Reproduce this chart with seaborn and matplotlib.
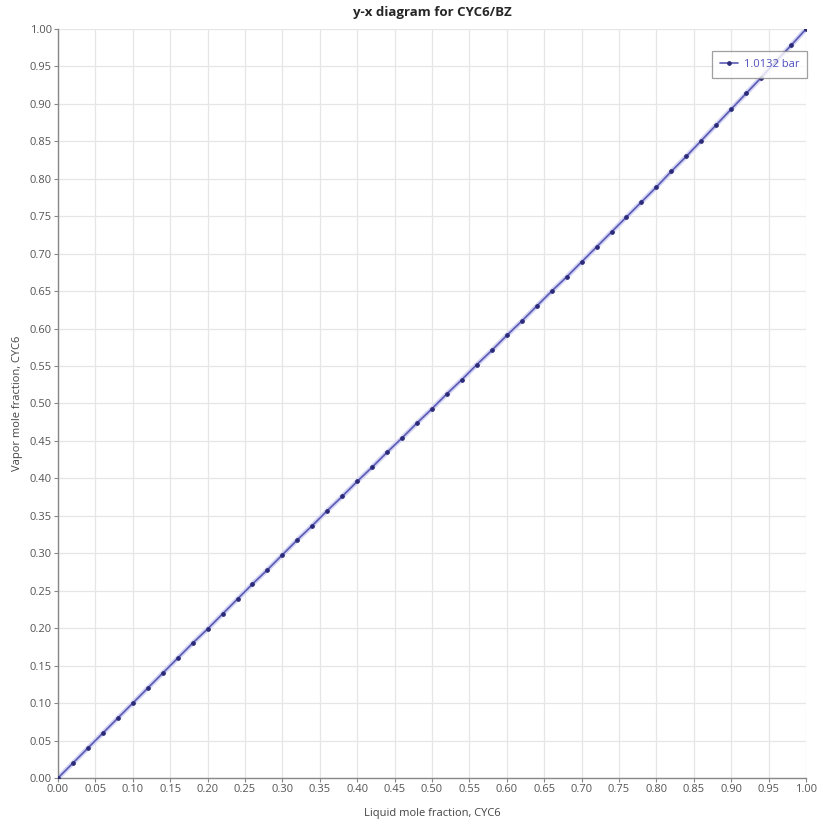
import numpy as np
import pandas as pd
import seaborn as sns
import matplotlib
matplotlib.use('Agg')
import matplotlib.pyplot as plt

# liquid / vapor mole fractions of CYC6 at 1.0132 bar
x_liq = [0.00, 0.02, 0.04, 0.06, 0.08, 0.10, 0.12, 0.14, 0.16, 0.18,
         0.20, 0.22, 0.24, 0.26, 0.28, 0.30, 0.32, 0.34, 0.36, 0.38,
         0.40, 0.42, 0.44, 0.46, 0.48, 0.50, 0.52, 0.54, 0.56, 0.58,
         0.60, 0.62, 0.64, 0.66, 0.68, 0.70, 0.72, 0.74, 0.76, 0.78,
         0.80, 0.82, 0.84, 0.86, 0.88, 0.90, 0.92, 0.94, 0.96, 0.98, 1.00]
y_vap = [0.000, 0.020, 0.040, 0.060, 0.080, 0.100, 0.120, 0.140, 0.160, 0.180,
         0.199, 0.219, 0.239, 0.259, 0.278, 0.298, 0.318, 0.337, 0.357, 0.376,
         0.396, 0.415, 0.435, 0.454, 0.474, 0.493, 0.513, 0.532, 0.552, 0.571,
         0.591, 0.610, 0.630, 0.650, 0.669, 0.689, 0.709, 0.729, 0.749, 0.769,
         0.789, 0.810, 0.830, 0.851, 0.872, 0.893, 0.914, 0.935, 0.957, 0.978, 1.000]
ticks = [round(0.05 * i, 2) for i in range(21)]
tick_labels = ['%.2f' % t for t in ticks]
series_name = '1.0132 bar'

df = pd.DataFrame({'x': x_liq, 'y': y_vap})

sns.set_style('white')
plt.rcParams['font.family'] = ['Open Sans', 'DejaVu Sans']

fig = plt.figure(figsize=(8.19, 8.26), dpi=100)
ax = fig.add_axes([58 / 819, 1 - 778 / 826, 748 / 819, 749 / 826])

# soft halo under the curve
sns.lineplot(data=df, x='x', y='y', ax=ax, color='#d4d4f4', linewidth=3.5,
             legend=False, zorder=2)
sns.lineplot(data=df, x='x', y='y', ax=ax, color='#5a5ab4', linewidth=1.2,
             marker='o', markersize=2.6, markerfacecolor='#2a2a78',
             markeredgecolor='#2a2a78', label=series_name, zorder=3)

ax.set_xlim(0, 1)
ax.set_ylim(0, 1)
ax.set_xticks(ticks)
ax.set_yticks(ticks)
ax.set_xticklabels(tick_labels)
ax.set_yticklabels(tick_labels)
ax.grid(True, color='#e6e6e6', linewidth=0.9)
ax.set_axisbelow(True)
ax.tick_params(axis='both', labelsize=8, labelcolor='#555555', color='#888888',
               length=3, width=0.8, direction='out', pad=1.5)
ax.tick_params(axis='both', bottom=True, left=True)

for s in ['top', 'right']:
    ax.spines[s].set_visible(False)
for s in ['left', 'bottom']:
    ax.spines[s].set_color('#888888')
    ax.spines[s].set_linewidth(1.0)

ax.set_xlabel('Liquid mole fraction, CYC6', fontsize=8, color='#444444', labelpad=9)
ax.set_ylabel('Vapor mole fraction, CYC6', fontsize=8, color='#444444', labelpad=5)
ax.set_title('y-x diagram for CYC6/BZ', fontsize=9.5, fontweight='bold', pad=9)

leg = ax.legend(loc='upper right', bbox_to_anchor=(1.002, 0.971), fontsize=8,
                frameon=True, fancybox=False, handlelength=1.6, borderpad=0.75,
                handletextpad=0.5, borderaxespad=0)
leg.get_frame().set_edgecolor('#888888')
leg.get_frame().set_linewidth(0.9)
for t in leg.get_texts():
    t.set_color('#5050c0')

fig.savefig('out.png', dpi=100)
